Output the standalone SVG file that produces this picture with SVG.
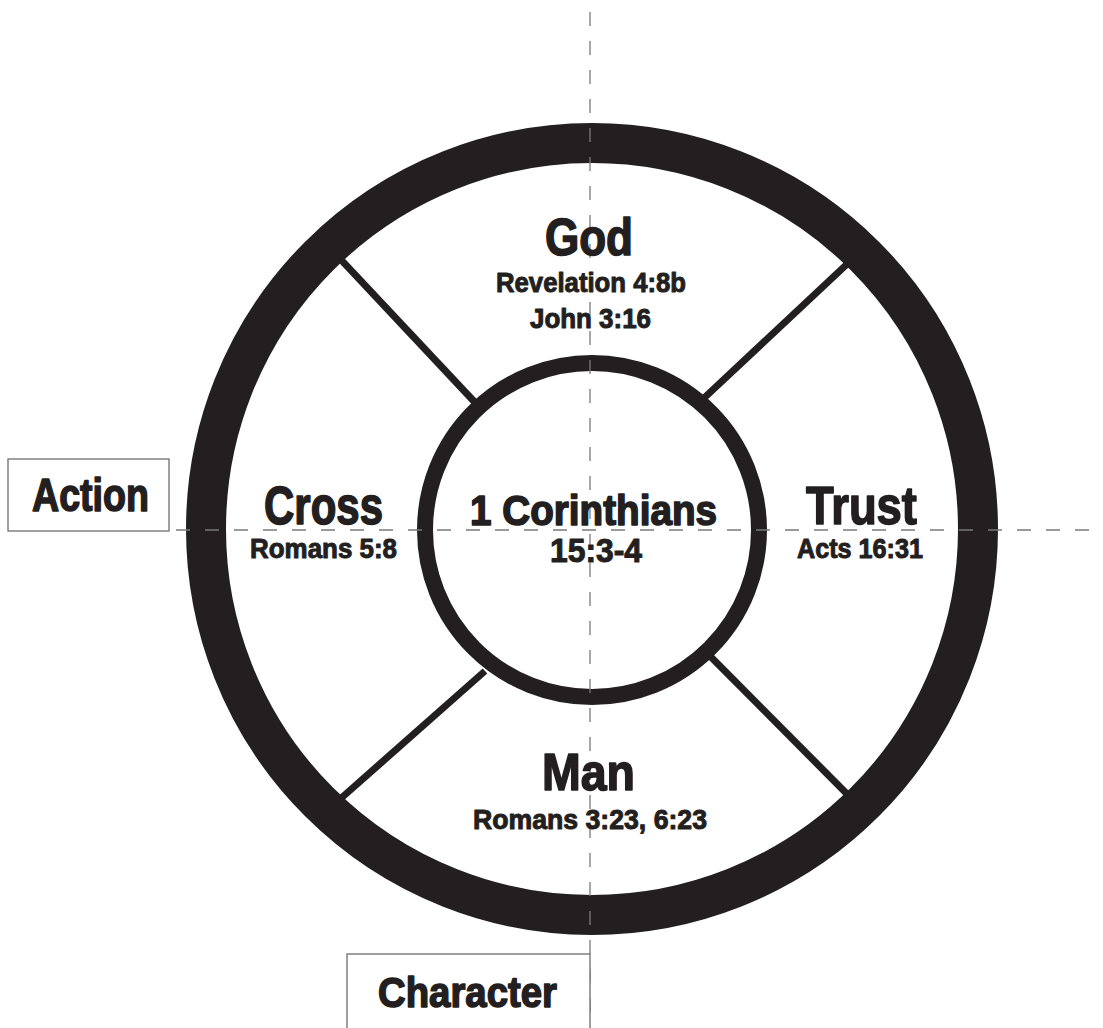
<svg xmlns="http://www.w3.org/2000/svg" width="1103" height="1028" viewBox="0 0 1103 1028">
<style>
.t{font-family:"Liberation Sans",Arial,sans-serif;font-weight:bold;fill:#231f20;stroke:#231f20;stroke-width:1;stroke-linejoin:round}
.big{stroke-width:1.6}
.ring{fill:none;stroke:#231f20}
.spoke{stroke:#231f20;stroke-width:7;stroke-linecap:butt}
.dash{stroke:#7a7a7a;stroke-width:1.3;stroke-dasharray:14 15;fill:none}
.box{fill:#fff;stroke:#6d6d6d;stroke-width:1.3}
</style>
<rect width="1103" height="1028" fill="#fff"/>
<g id="wheel">
<circle class="ring" cx="592" cy="529" r="386" stroke-width="40"/>
<circle class="ring" cx="592" cy="530" r="167" stroke-width="16"/>
</g>
<g id="connectors">
<line class="spoke" x1="330" y1="248" x2="484" y2="412"/>
<line class="spoke" x1="860" y1="252" x2="703" y2="399"/>
<line class="spoke" x1="330" y1="808" x2="485" y2="671"/>
<line class="spoke" x1="860" y1="807" x2="705" y2="651"/>
<line class="dash" x1="590" y1="12" x2="590" y2="1028"/>
<line class="dash" x1="176" y1="530" x2="1103" y2="530"/>
</g>
<g id="action">
<rect class="box" x="8" y="459" width="161" height="72"/>
<text class="t big" x="32" y="511" font-size="46" textLength="117" lengthAdjust="spacingAndGlyphs">Action</text>
</g>
<g id="character">
<rect class="box" x="347" y="954" width="243" height="90"/>
<text class="t big" x="378" y="1007" font-size="43" textLength="179" lengthAdjust="spacingAndGlyphs">Character</text>
</g>
<g id="god">
<text class="t big" x="545" y="255" font-size="52" textLength="88" lengthAdjust="spacingAndGlyphs">God</text>
<text class="t" x="496" y="292" font-size="28" textLength="190" lengthAdjust="spacingAndGlyphs">Revelation 4:8b</text>
<text class="t" x="530" y="328" font-size="28" textLength="121" lengthAdjust="spacingAndGlyphs">John 3:16</text>
</g>
<g id="cross">
<text class="t big" x="264" y="524" font-size="54" textLength="119" lengthAdjust="spacingAndGlyphs">Cross</text>
<text class="t" x="250" y="558" font-size="28" textLength="147" lengthAdjust="spacingAndGlyphs">Romans 5:8</text>
</g>
<g id="trust">
<text class="t big" x="806" y="524" font-size="54" textLength="111" lengthAdjust="spacingAndGlyphs">Trust</text>
<text class="t" x="797" y="558" font-size="28" textLength="126" lengthAdjust="spacingAndGlyphs">Acts 16:31</text>
</g>
<g id="center">
<text class="t big" x="470" y="525" font-size="42" textLength="247" lengthAdjust="spacingAndGlyphs">1 Corinthians</text>
<text class="t" x="550" y="562" font-size="33" textLength="92" lengthAdjust="spacingAndGlyphs">15:3-4</text>
</g>
<g id="man">
<text class="t big" x="542" y="790" font-size="52" textLength="93" lengthAdjust="spacingAndGlyphs">Man</text>
<text class="t" x="473" y="829" font-size="28" textLength="234" lengthAdjust="spacingAndGlyphs">Romans 3:23, 6:23</text>
</g>
</svg>
